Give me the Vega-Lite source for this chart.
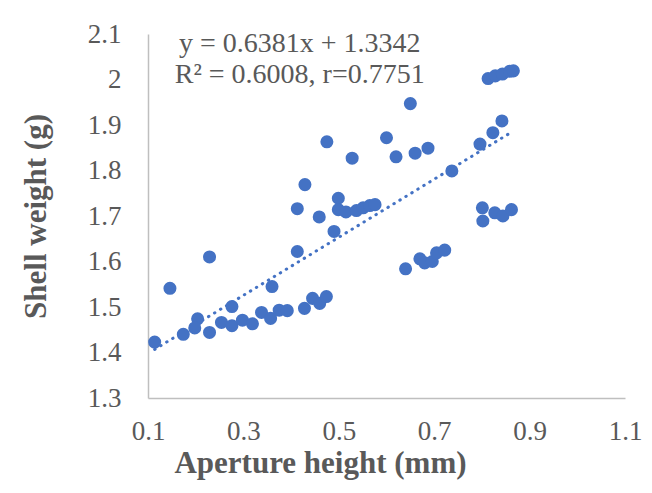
{
  "$schema": "https://vega.github.io/schema/vega-lite/v6.json",
  "width": 477,
  "height": 364,
  "autosize": {"type": "none"},
  "padding": {"left": 148, "top": 34, "right": 27, "bottom": 95},
  "background": "white",
  "config": {
    "view": {"stroke": null},
    "font": "Liberation Serif",
    "axis": {
      "grid": false,
      "ticks": false,
      "domainColor": "#BFBFBF",
      "domainWidth": 1.5,
      "labelColor": "#595959",
      "labelFont": "Liberation Serif",
      "labelFontSize": 27,
      "titleColor": "#595959",
      "titleFont": "Liberation Serif",
      "titleFontSize": 31,
      "titleFontWeight": "bold"
    }
  },
  "datasets": {
    "points": [
      {"aperture": 0.114, "weight": 1.423},
      {"aperture": 0.146, "weight": 1.541},
      {"aperture": 0.174, "weight": 1.440},
      {"aperture": 0.204, "weight": 1.474},
      {"aperture": 0.198, "weight": 1.454},
      {"aperture": 0.229, "weight": 1.444},
      {"aperture": 0.229, "weight": 1.610},
      {"aperture": 0.254, "weight": 1.466},
      {"aperture": 0.276, "weight": 1.501},
      {"aperture": 0.276, "weight": 1.459},
      {"aperture": 0.298, "weight": 1.471},
      {"aperture": 0.319, "weight": 1.463},
      {"aperture": 0.338, "weight": 1.488},
      {"aperture": 0.357, "weight": 1.475},
      {"aperture": 0.360, "weight": 1.545},
      {"aperture": 0.375, "weight": 1.493},
      {"aperture": 0.392, "weight": 1.492},
      {"aperture": 0.428, "weight": 1.497},
      {"aperture": 0.445, "weight": 1.519},
      {"aperture": 0.460, "weight": 1.508},
      {"aperture": 0.474, "weight": 1.523},
      {"aperture": 0.413, "weight": 1.622},
      {"aperture": 0.413, "weight": 1.716},
      {"aperture": 0.459, "weight": 1.698},
      {"aperture": 0.490, "weight": 1.666},
      {"aperture": 0.429, "weight": 1.769},
      {"aperture": 0.475, "weight": 1.863},
      {"aperture": 0.528, "weight": 1.827},
      {"aperture": 0.499, "weight": 1.739},
      {"aperture": 0.499, "weight": 1.714},
      {"aperture": 0.515, "weight": 1.709},
      {"aperture": 0.537, "weight": 1.712},
      {"aperture": 0.551, "weight": 1.718},
      {"aperture": 0.565, "weight": 1.723},
      {"aperture": 0.576, "weight": 1.725},
      {"aperture": 0.600, "weight": 1.872},
      {"aperture": 0.620, "weight": 1.830},
      {"aperture": 0.650, "weight": 1.947},
      {"aperture": 0.660, "weight": 1.838},
      {"aperture": 0.687, "weight": 1.849},
      {"aperture": 0.737, "weight": 1.799},
      {"aperture": 0.640, "weight": 1.584},
      {"aperture": 0.670, "weight": 1.606},
      {"aperture": 0.680, "weight": 1.597},
      {"aperture": 0.696, "weight": 1.600},
      {"aperture": 0.705, "weight": 1.619},
      {"aperture": 0.722, "weight": 1.625},
      {"aperture": 0.796, "weight": 1.858},
      {"aperture": 0.823, "weight": 1.883},
      {"aperture": 0.842, "weight": 1.909},
      {"aperture": 0.813, "weight": 2.002},
      {"aperture": 0.828, "weight": 2.008},
      {"aperture": 0.843, "weight": 2.012},
      {"aperture": 0.858, "weight": 2.018},
      {"aperture": 0.866, "weight": 2.019},
      {"aperture": 0.801, "weight": 1.718},
      {"aperture": 0.802, "weight": 1.689},
      {"aperture": 0.827, "weight": 1.707},
      {"aperture": 0.844, "weight": 1.700},
      {"aperture": 0.862, "weight": 1.714}
    ],
    "trend": [
      {"aperture": 0.114, "weight": 1.4069},
      {"aperture": 0.866, "weight": 1.8868}
    ],
    "label": [
      {"aperture": 0.418, "weight": 2.077, "text": "y = 0.6381x + 1.3342"},
      {"aperture": 0.418, "weight": 2.009, "text": "R² = 0.6008, r=0.7751"}
    ]
  },
  "layer": [
    {
      "data": {"name": "trend"},
      "mark": {"type": "line", "color": "#4472C4", "strokeWidth": 3, "strokeDash": [0.5, 6.5], "strokeCap": "round"},
      "encoding": {
        "x": {"field": "aperture", "type": "quantitative"},
        "y": {"field": "weight", "type": "quantitative"}
      }
    },
    {
      "data": {"name": "points"},
      "mark": {"type": "circle", "color": "#4472C4", "opacity": 1, "size": 170},
      "encoding": {
        "x": {
          "field": "aperture", "type": "quantitative",
          "title": "Aperture height (mm)",
          "scale": {"domain": [0.1, 1.1], "nice": false, "zero": false},
          "axis": {"values": [0.1, 0.3, 0.5, 0.7, 0.9, 1.1], "format": ".1~f", "labelPadding": 20, "titlePadding": 4, "labelFlush": false, "titleX": 172, "titleAlign": "center"}
        },
        "y": {
          "field": "weight", "type": "quantitative",
          "title": "Shell weight (g)",
          "scale": {"domain": [1.3, 2.1], "nice": false, "zero": false},
          "axis": {"values": [1.3, 1.4, 1.5, 1.6, 1.7, 1.8, 1.9, 2.0, 2.1], "format": ".1~f", "labelPadding": 27, "titlePadding": 35, "labelFlush": false}
        }
      }
    },
    {
      "data": {"name": "label"},
      "mark": {"type": "text", "color": "#595959", "font": "Liberation Serif", "fontSize": 28, "align": "center", "baseline": "middle"},
      "encoding": {
        "x": {"field": "aperture", "type": "quantitative"},
        "y": {"field": "weight", "type": "quantitative"},
        "text": {"field": "text"}
      }
    }
  ]
}
